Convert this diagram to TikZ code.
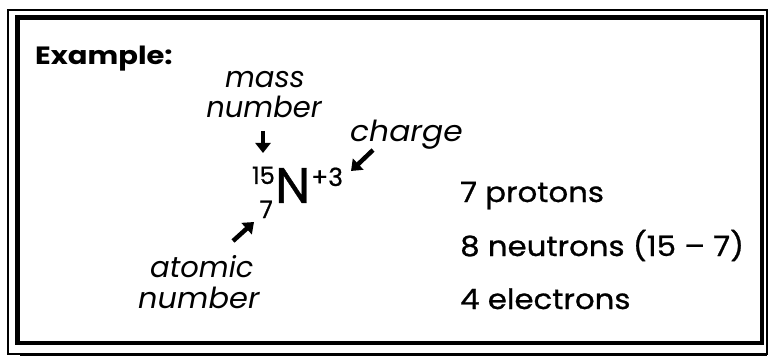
\documentclass[tikz,border=0pt]{standalone}
\usepackage{fontspec}
\setmainfont{Poppins}
\newfontfamily\factfont[FakeBold=0.8]{Poppins}
\usetikzlibrary{arrows.meta}
\begin{document}
\begin{tikzpicture}[x=1pt,y=-1pt,
  lbl/.style={font=\fontsize{29}{32}\selectfont\itshape, inner sep=0},
  facts/.style={font=\factfont\fontsize{28}{32}\selectfont, inner sep=0, anchor=base west, xscale=1.1},
  sym/.style={inner sep=0},
  pointer/.style={line width=4.5pt, -{Triangle[length=10pt,width=15pt]}}]
\useasboundingbox (0,0) rectangle (773,358);
% frames
\draw[line width=1.2pt] (8,10) rectangle (767,354);
\draw[line width=3pt] (20,354) -- (767,354);
\draw[line width=4.5pt] (17.5,17.5) rectangle (762,343);
% title
\node[inner sep=0, anchor=base west, xscale=1.16, font=\fontsize{25}{28}\selectfont\bfseries] (example) at (35,65) {Example:};
% labels
\node[lbl, anchor=base] (mass) at (265,88) {mass};
\node[lbl, anchor=base] (massnum) at (264,118) {number};
\node[lbl, anchor=base west, xscale=1.08] (charge) at (350,142) {charge};
\node[lbl, anchor=base west] (atomic) at (150,277) {atomic};
\node[lbl, anchor=base west, xscale=1.05] (atomnum) at (138,308) {number};
% symbol
\node[sym, anchor=base west, font=\factfont\fontsize{50}{50}\selectfont] (N) at (275,203) {N};
\node[sym, anchor=base east, font=\factfont\fontsize{24}{24}\selectfont] (A) at (275,184) {15};
\node[sym, anchor=base west, font=\factfont\fontsize{25}{25}\selectfont] (q) at (311,186) {+3};
\node[sym, anchor=base east, font=\factfont\fontsize{24}{24}\selectfont] (Z) at (273,218) {7};
% arrows
\coordinate (m1) at (263,131); \coordinate (m2) at (263,153);
\coordinate (c1) at (373,150); \coordinate (c2) at (351,171);
\coordinate (a1) at (233,241); \coordinate (a2) at (254,222);
\draw[pointer] (m1) -- (m2);
\draw[pointer] (c1) -- (c2);
\draw[pointer] (a1) -- (a2);
% facts
\node[facts] (prot) at (460,202) {7 protons};
\node[facts] (neut) at (460,256) {8 neutrons (15 – 7)};
\node[facts] (elec) at (460,309) {4 electrons};
\end{tikzpicture}
\end{document}
